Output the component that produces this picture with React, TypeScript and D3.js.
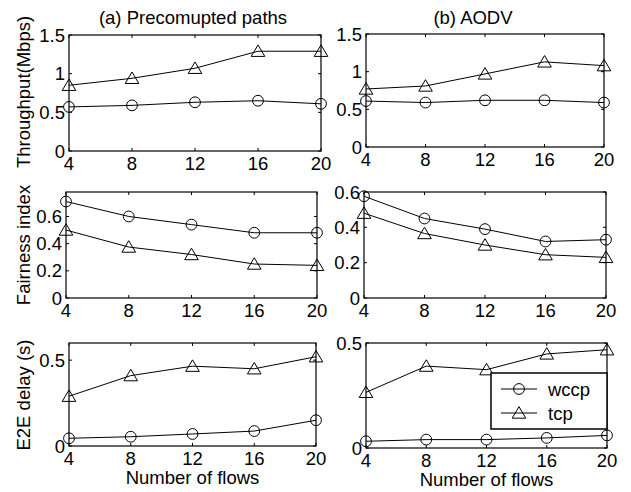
import React from "react";
import * as d3 from "d3";

const flows = [4, 8, 12, 16, 20];
const xTicks = [4, 8, 12, 16, 20];

// Throughput (Mbps)
const thrWccpA = [0.57, 0.59, 0.63, 0.65, 0.61];
const thrTcpA = [0.85, 0.94, 1.07, 1.29, 1.29];
const thrWccpB = [0.61, 0.59, 0.62, 0.62, 0.59];
const thrTcpB = [0.77, 0.81, 0.97, 1.13, 1.08];

// Fairness index
const fairWccpA = [0.71, 0.6, 0.54, 0.48, 0.48];
const fairTcpA = [0.5, 0.375, 0.32, 0.25, 0.24];
const fairWccpB = [0.576, 0.45, 0.39, 0.32, 0.33];
const fairTcpB = [0.48, 0.365, 0.3, 0.245, 0.23];

// E2E delay (s)
const delayWccpA = [0.045, 0.054, 0.07, 0.087, 0.15];
const delayTcpA = [0.29, 0.41, 0.465, 0.45, 0.52];
const delayWccpB = [0.032, 0.04, 0.04, 0.048, 0.06];
const delayTcpB = [0.265, 0.39, 0.373, 0.448, 0.468];

const thrTicks = [0, 0.5, 1, 1.5];
const thrTickLabels = ["0", "0.5", "1", "1.5"];
const fairTicksA = [0, 0.2, 0.4, 0.6];
const fairTickLabelsA = ["0", "0.2", "0.4", "0.6"];
const fairTicksB = [0, 0.2, 0.4, 0.6];
const fairTickLabelsB = ["0", "0.2", "0.4", "0.6"];
const delayTicks = [0, 0.5];
const delayTickLabels = ["0", "0.5"];

const titles = ["(a) Precomupted paths", "(b) AODV"];
const yLabels = ["Throughput(Mbps)", "Fairness index", "E2E delay (s)"];
const xLabel = "Number of flows";
const seriesNames = ["wccp", "tcp"];

const FONT = "'Liberation Sans', Arial, Helvetica, sans-serif";
const FS = 18.5;

type Panel = {
  x0: number; x1: number; y0: number; y1: number;
  ymax: number; ticks: number[]; tickLabels: string[];
  wccp: number[]; tcp: number[];
  legend?: boolean; xlabel?: boolean;
};

const panels: Panel[] = [
  { x0: 69, x1: 321, y0: 35, y1: 151, ymax: 1.5, ticks: thrTicks, tickLabels: thrTickLabels, wccp: thrWccpA, tcp: thrTcpA },
  { x0: 366, x1: 604, y0: 34, y1: 147, ymax: 1.5, ticks: thrTicks, tickLabels: thrTickLabels, wccp: thrWccpB, tcp: thrTcpB },
  { x0: 66, x1: 317, y0: 192, y1: 298, ymax: 0.78, ticks: fairTicksA, tickLabels: fairTickLabelsA, wccp: fairWccpA, tcp: fairTcpA },
  { x0: 364, x1: 606, y0: 192, y1: 298, ymax: 0.6, ticks: fairTicksB, tickLabels: fairTickLabelsB, wccp: fairWccpB, tcp: fairTcpB },
  { x0: 69, x1: 316, y0: 343, y1: 446, ymax: 0.6, ticks: delayTicks, tickLabels: delayTickLabels, wccp: delayWccpA, tcp: delayTcpA, xlabel: true },
  { x0: 366, x1: 607, y0: 343, y1: 448, ymax: 0.5, ticks: delayTicks, tickLabels: delayTickLabels, wccp: delayWccpB, tcp: delayTcpB, legend: true, xlabel: true },
];

function Circle({ x, y }: { x: number; y: number }) {
  return <circle cx={x} cy={y} r={5.4} fill="none" stroke="#000" strokeWidth={1} />;
}
function Tri({ x, y }: { x: number; y: number }) {
  const w = 6.8, h = 11.5;
  const p = `${x},${y - h * 0.55} ${x - w},${y + h * 0.45} ${x + w},${y + h * 0.45}`;
  return <polygon points={p} fill="none" stroke="#000" strokeWidth={1} />;
}

function PanelView({ p }: { p: Panel }) {
  const xs = d3.scaleLinear().domain([4, 20]).range([p.x0, p.x1]);
  const ys = d3.scaleLinear().domain([0, p.ymax]).range([p.y1, p.y0]);
  const line = d3.line<number>().x((_, i) => xs(flows[i])).y((d) => ys(d));
  const tl = 3;
  return (
    <g>
      <path d={line(p.tcp) || ""} fill="none" stroke="#000" strokeWidth={1} />
      <path d={line(p.wccp) || ""} fill="none" stroke="#000" strokeWidth={1} />
      {p.tcp.map((v, i) => <Tri key={"t" + i} x={xs(flows[i])} y={ys(v)} />)}
      {p.wccp.map((v, i) => <Circle key={"c" + i} x={xs(flows[i])} y={ys(v)} />)}
      <rect x={p.x0} y={p.y0} width={p.x1 - p.x0} height={p.y1 - p.y0} fill="none" stroke="#000" strokeWidth={1.2} />
      {xTicks.map((t) => (
        <g key={"xt" + t}>
          <line x1={xs(t)} x2={xs(t)} y1={p.y1} y2={p.y1 - tl} stroke="#000" />
          <line x1={xs(t)} x2={xs(t)} y1={p.y0} y2={p.y0 + tl} stroke="#000" />
          <text x={xs(t)} y={p.y1 + 19} textAnchor="middle" fontSize={FS} fontFamily={FONT}>{t}</text>
        </g>
      ))}
      {p.ticks.map((t, i) => (
        <g key={"yt" + t}>
          <line x1={p.x0} x2={p.x0 + tl} y1={ys(t)} y2={ys(t)} stroke="#000" />
          <line x1={p.x1} x2={p.x1 - tl} y1={ys(t)} y2={ys(t)} stroke="#000" />
          <text x={p.x0 - 4} y={ys(t)} dy="0.36em" textAnchor="end" fontSize={FS} fontFamily={FONT}>{p.tickLabels[i]}</text>
        </g>
      ))}
      {p.xlabel && (
        <text x={(p.x0 + p.x1) / 2} y={p.y1 + 38} textAnchor="middle" fontSize={FS} fontFamily={FONT}>{xLabel}</text>
      )}
      {p.legend && (
        <g>
          <rect x={491} y={373} width={p.x1 - 491} height={56} fill="#fff" stroke="#000" strokeWidth={1.5} />
          <line x1={501} x2={537} y1={389} y2={389} stroke="#000" />
          <Circle x={519} y={389} />
          <text x={548} y={389} dy="0.36em" fontSize={FS} fontFamily={FONT}>{seriesNames[0]}</text>
          <line x1={501} x2={537} y1={413} y2={413} stroke="#000" />
          <Tri x={519} y={413} />
          <text x={548} y={413} dy="0.36em" fontSize={FS} fontFamily={FONT}>{seriesNames[1]}</text>
        </g>
      )}
    </g>
  );
}

export default function App() {
  return (
    <svg width={631} height={492} style={{ position: "absolute", left: 0, top: 0, background: "#fff" }}>
      <rect width={631} height={492} fill="#fff" />
      {panels.map((p, i) => <PanelView key={i} p={p} />)}
      <text x={193} y={24} textAnchor="middle" fontSize={FS} fontFamily={FONT}>{titles[0]}</text>
      <text x={473} y={24} textAnchor="middle" fontSize={FS} fontFamily={FONT}>{titles[1]}</text>
      {yLabels.map((l, i) => {
        const cy = [92, 245, 395][i];
        return (
          <text key={l} transform={`translate(30,${cy}) rotate(-90)`} textAnchor="middle" fontSize={FS} fontFamily={FONT}>{l}</text>
        );
      })}
    </svg>
  );
}
